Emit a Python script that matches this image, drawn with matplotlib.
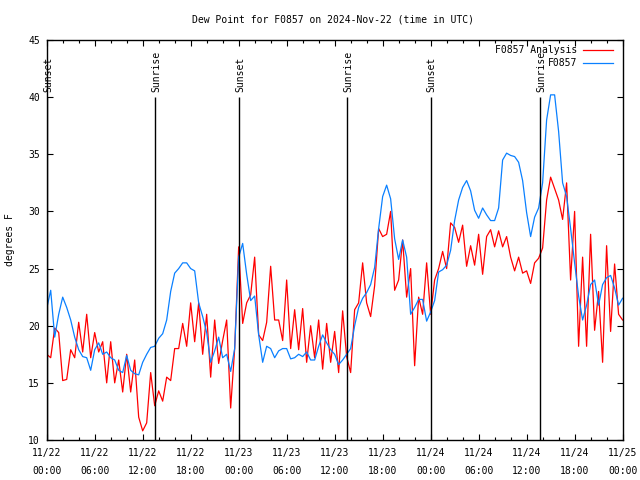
import numpy as np
import matplotlib
matplotlib.use("Agg")
import matplotlib.pyplot as plt

# time in hours since 2024-11-22 00:00 UTC, every 30 minutes
hours = np.arange(0, 72.5, 0.5)

analysis = [  # F0857 Analysis (red)
    17.5, 17.2, 19.8, 19.4, 15.2, 15.3, 17.9, 17.2, 20.3, 17.7, 21.0, 17.2,
    19.4, 17.7, 18.6, 15.0, 18.6, 15.0, 17.0, 14.2, 17.5, 14.2, 17.0, 12.0,
    10.8, 11.5, 15.9, 13.0, 14.3, 13.4, 15.5, 15.2, 18.0, 18.0, 20.2, 18.2,
    22.0, 18.6, 22.0, 17.5, 21.0, 15.5, 20.5, 16.7, 18.7, 20.5, 12.8, 18.0,
    26.9, 20.2, 22.0, 22.7, 26.0, 19.2, 18.7, 20.3, 25.2, 20.5, 20.5, 18.7,
    24.0, 18.0, 21.4, 17.9, 21.5, 16.8, 20.0, 17.2, 20.5, 16.2, 20.2, 16.8,
    19.5, 15.9, 21.3, 17.3, 15.9, 21.4, 22.0, 25.5, 22.0, 20.8, 23.5, 28.5,
    27.8, 28.0, 30.0, 23.1, 24.0, 27.5, 22.5, 25.0, 16.5, 22.5, 21.0, 25.5,
    21.0, 24.0, 25.0, 26.5, 25.0, 29.0, 28.6, 27.3, 28.8, 25.2, 27.0, 25.3,
    28.0, 24.5, 27.8, 28.4, 26.9, 28.3, 26.9, 27.8, 26.0, 24.8, 26.0, 24.6,
    24.8, 23.7, 25.5, 25.9, 26.8, 31.0, 33.0, 32.0, 31.0, 29.3, 32.5, 24.0,
    30.0, 18.2, 26.0, 18.2, 28.0, 19.6, 23.0, 16.8, 27.0, 19.5, 25.4, 21.0,
    20.5,
]

station = [  # F0857 (blue)
    21.5, 23.1, 19.0, 21.0, 22.5, 21.6, 20.5, 19.0, 17.9, 17.3, 17.2, 16.1,
    17.9, 18.5, 17.5, 17.7, 17.2, 17.0, 16.1, 15.9, 17.4, 16.1, 15.8, 15.7,
    16.8, 17.5, 18.1, 18.2, 18.9, 19.3, 20.5, 23.0, 24.6, 25.0, 25.5, 25.5,
    25.0, 24.8, 22.0, 20.8, 19.4, 16.8, 17.8, 19.0, 17.2, 17.5, 16.0, 18.0,
    26.0, 27.2, 24.5, 22.2, 22.6, 19.2, 16.8, 18.2, 18.0, 17.2, 17.8, 18.0,
    18.0, 17.1, 17.2, 17.5, 17.3, 17.7, 17.0, 17.0, 18.2, 19.2, 18.5, 17.9,
    17.5, 16.6, 17.0, 17.5, 18.0, 20.0, 21.6, 22.4, 22.9, 23.6, 25.1, 28.5,
    31.3, 32.3, 31.1, 27.6, 25.8, 27.5, 26.0, 21.0, 21.6, 22.3, 22.3, 20.4,
    21.2, 22.2, 24.7, 24.9, 25.3, 26.6, 29.2, 31.0, 32.1, 32.7, 31.8, 30.1,
    29.4, 30.3, 29.7, 29.2, 29.2, 30.3, 34.5, 35.1, 34.9, 34.8, 34.3, 32.7,
    29.9, 27.8, 29.5, 30.3, 32.5, 38.0, 40.2, 40.2, 37.0, 32.5, 31.3, 28.5,
    25.5, 22.6, 20.5, 21.8, 23.6, 24.0, 21.8, 23.6, 24.2, 24.4, 23.3, 21.8,
    22.4,
]

sun_hours = [0.05, 13.6, 24.1, 37.6, 48.0, 61.7]
sun_labels = ["Sunset", "Sunrise", "Sunset", "Sunrise", "Sunset", "Sunrise"]

tick_hours = list(range(0, 73, 6))
tick_dates = ["11/22"] * 4 + ["11/23"] * 4 + ["11/24"] * 4 + ["11/25"]
tick_times = ["00:00", "06:00", "12:00", "18:00"] * 3 + ["00:00"]
tick_labels = [f"{d}\n{t}" for d, t in zip(tick_dates, tick_times)]

plt.rcParams["font.family"] = ["DejaVu Sans Mono"]
fs = 7

fig = plt.figure(figsize=(6.4, 4.8), dpi=100)
ax = fig.add_axes([46.7 / 640, 40 / 480, (622.6 - 46.7) / 640, 400 / 480])

ax.plot(hours, analysis, color="#ff0000", lw=0.9, label="F0857 Analysis")
ax.plot(hours, station, color="#0a80ff", lw=0.9, label="F0857")

for h, lab in zip(sun_hours, sun_labels):
    ax.vlines(h, 10, 40, color="black", lw=1)
    ax.text(h + 0.15, 40.45, lab, rotation=90, ha="center", va="bottom",
            fontsize=fs)

ax.set_xlim(0, 72)
ax.set_ylim(10, 45)
ax.set_xticks(tick_hours)
ax.set_xticklabels(tick_labels, fontsize=fs, linespacing=1.9)
ax.set_xticks(list(range(0, 73, 2)), minor=True)
ax.set_yticks(list(range(10, 46, 5)))
ax.tick_params(axis="both", which="both", direction="in", top=True,
               right=True, labelsize=fs, width=0.8)
ax.tick_params(axis="both", which="major", length=4)
ax.tick_params(axis="both", which="minor", length=2)
ax.tick_params(axis="x", which="major", pad=6)
ax.tick_params(axis="y", which="major", pad=5)
for s in ax.spines.values():
    s.set_linewidth(1.0)

# legend drawn manually (right aligned text, line sample to the right)
for i, (lab, col) in enumerate([("F0857 Analysis", "#ff0000"),
                                ("F0857", "#0a80ff")]):
    yy = 0.975 - i * 0.033
    ax.text(0.922, yy, lab, transform=ax.transAxes, ha="right", va="center",
            fontsize=fs)
    ax.plot([0.931, 0.983], [yy, yy], transform=ax.transAxes, color=col,
            lw=0.9)

fig.text(333 / 640, 1 - 20 / 480,
         "Dew Point for F0857 on 2024-Nov-22 (time in UTC)",
         ha="center", va="center", fontsize=fs)
fig.text(10 / 640, 0.5, "degrees F", rotation=90, ha="center", va="center",
         fontsize=fs)

fig.savefig("out.png", dpi=100)
